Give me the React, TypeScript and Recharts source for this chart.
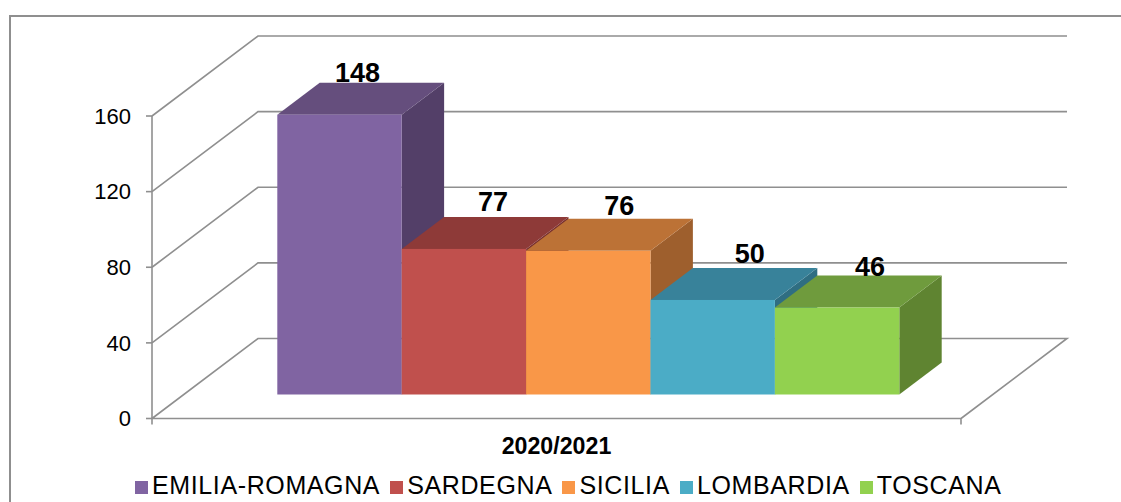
import { BarChart, Bar, XAxis, YAxis, CartesianGrid, Legend, LabelList } from 'recharts';

const seasons = ['2020/2021'];
const regions = ['EMILIA-ROMAGNA', 'SARDEGNA', 'SICILIA', 'LOMBARDIA', 'TOSCANA'];
const cases = [148, 77, 76, 50, 46];
const yTicks = [0, 40, 80, 120, 160];

const frontColors = ['#8064A2', '#C0504D', '#F99748', '#4BACC6', '#92D14F'];
const topColors = ['#654E7D', '#8E3A38', '#BC7236', '#38829A', '#6F9B3D'];
const sideColors = ['#533F68', '#78302E', '#9E5F2D', '#2F6E82', '#5F8431'];

// hand placed in the original, so each value label has its own nudge
const labelNudgeX = [-3, 8, 10, 16, 12];
const labelGapY = [1, 6, 4, 5, 0];

const chartData = seasons.map(season => {
    const row: Record<string, string | number> = { season };
    regions.forEach((region, i) => {
        row[region] = cases[i];
    });
    return row;
});

const GREY = '#8f8f8f';

// fake 3D: walls run back by this much, bars sit part way along the floor
const WALL_X = 106;
const WALL_Y = -80;
const BAR_SHIFT_X = 31.8;
const BAR_SHIFT_Y = -24;
const DEPTH_X = 42.4;
const DEPTH_Y = -32;
// recharts truncates the bar width to 124, the original is 124.4
const WIDTH_FIX = 0.4;

const renderWallLine = (props: any) => {
    const { x1, x2, y1 } = props;
    const back = y1 + WALL_Y;
    let d = `M${x1} ${y1}L${x1 + WALL_X} ${back}H${x2 + WALL_X}`;
    // floor edge and the two end ticks only on the zero line
    if (Math.abs(y1 - 418) < 2) {
        d += `L${x2} ${y1}V${y1 + 6}M${x2} ${y1}H${x1}V${y1 + 6}`;
    }
    return <path key={props.key ?? y1} d={d} fill="none" stroke={GREY} strokeWidth={1.6} />;
};

const makeBarShape = (i: number) => (props: any) => {
    const x = props.x + BAR_SHIFT_X + i * WIDTH_FIX;
    const y = props.y + BAR_SHIFT_Y;
    const width = props.width + WIDTH_FIX;
    const { height } = props;
    return (
        <g>
            <path
                d={`M${x + width} ${y}l${DEPTH_X} ${DEPTH_Y}v${height}l${-DEPTH_X} ${-DEPTH_Y}z`}
                fill={sideColors[i]}
            />
            <path
                d={`M${x} ${y}l${DEPTH_X} ${DEPTH_Y}h${width}l${-DEPTH_X} ${-DEPTH_Y}z`}
                fill={topColors[i]}
            />
            <rect x={x} y={y} width={width} height={height} fill={frontColors[i]} />
        </g>
    );
};

const makeValueLabel = (i: number) => (props: any) => {
    const { x, y, width, value } = props;
    return (
        <text
            x={x + BAR_SHIFT_X + width / 2 + DEPTH_X / 2 + labelNudgeX[i] + i * WIDTH_FIX}
            y={y + BAR_SHIFT_Y + DEPTH_Y - labelGapY[i]}
            textAnchor="middle"
            fontSize={27}
            fontWeight="bold"
            fill="#000"
        >
            {value}
        </text>
    );
};

const SeasonTick = ({ x, y, payload }: any) => (
    <text x={x} y={y + 27} textAnchor="middle" fontSize={23.2} fontWeight="bold" fill="#000">
        {payload.value}
    </text>
);

const App = () => {
    return (
        <div
            style={{
                position: 'absolute',
                left: 0,
                top: 0,
                width: 1121,
                height: 502,
                overflow: 'hidden',
                background: '#fff',
                fontFamily: '"Liberation Sans", Arial, sans-serif',
            }}
        >
            <div
                style={{
                    position: 'absolute',
                    left: 9,
                    top: 15,
                    width: 1200,
                    height: 600,
                    border: `2px solid ${GREY}`,
                }}
            />
            <BarChart
                width={1121}
                height={502}
                data={chartData}
                barGap={0}
                barCategoryGap={93.5}
                margin={{ top: 116, right: 160, bottom: 13.5, left: 100 }}
            >
                <CartesianGrid vertical={false} horizontal={renderWallLine} />
                <XAxis
                    dataKey="season"
                    height={40}
                    axisLine={false}
                    tickLine={false}
                    tick={<SeasonTick />}
                />
                <YAxis
                    width={52}
                    domain={[0, 160]}
                    ticks={yTicks}
                    axisLine={{ stroke: GREY, strokeWidth: 1.6 }}
                    tickLine={{ stroke: GREY, strokeWidth: 1.6 }}
                    tickSize={6}
                    tickMargin={15}
                    tick={{ fontSize: 22, fill: '#000' }}
                />
                <Legend
                    itemSorter={null}
                    iconType="square"
                    iconSize={13}
                    align="left"
                    formatter={(value: string) => <span style={{ color: '#000' }}>{value}</span>}
                    wrapperStyle={{
                        left: 135,
                        bottom: 2,
                        width: 960,
                        fontSize: 25,
                        letterSpacing: 0.62,
                        lineHeight: '30px',
                        whiteSpace: 'nowrap',
                    }}
                />
                {regions.map((region, i) => (
                    <Bar
                        key={region}
                        dataKey={region}
                        fill={frontColors[i]}
                        shape={makeBarShape(i)}
                        isAnimationActive={false}
                    >
                        <LabelList dataKey={region} content={makeValueLabel(i)} />
                    </Bar>
                ))}
            </BarChart>
        </div>
    );
};

export default App;
